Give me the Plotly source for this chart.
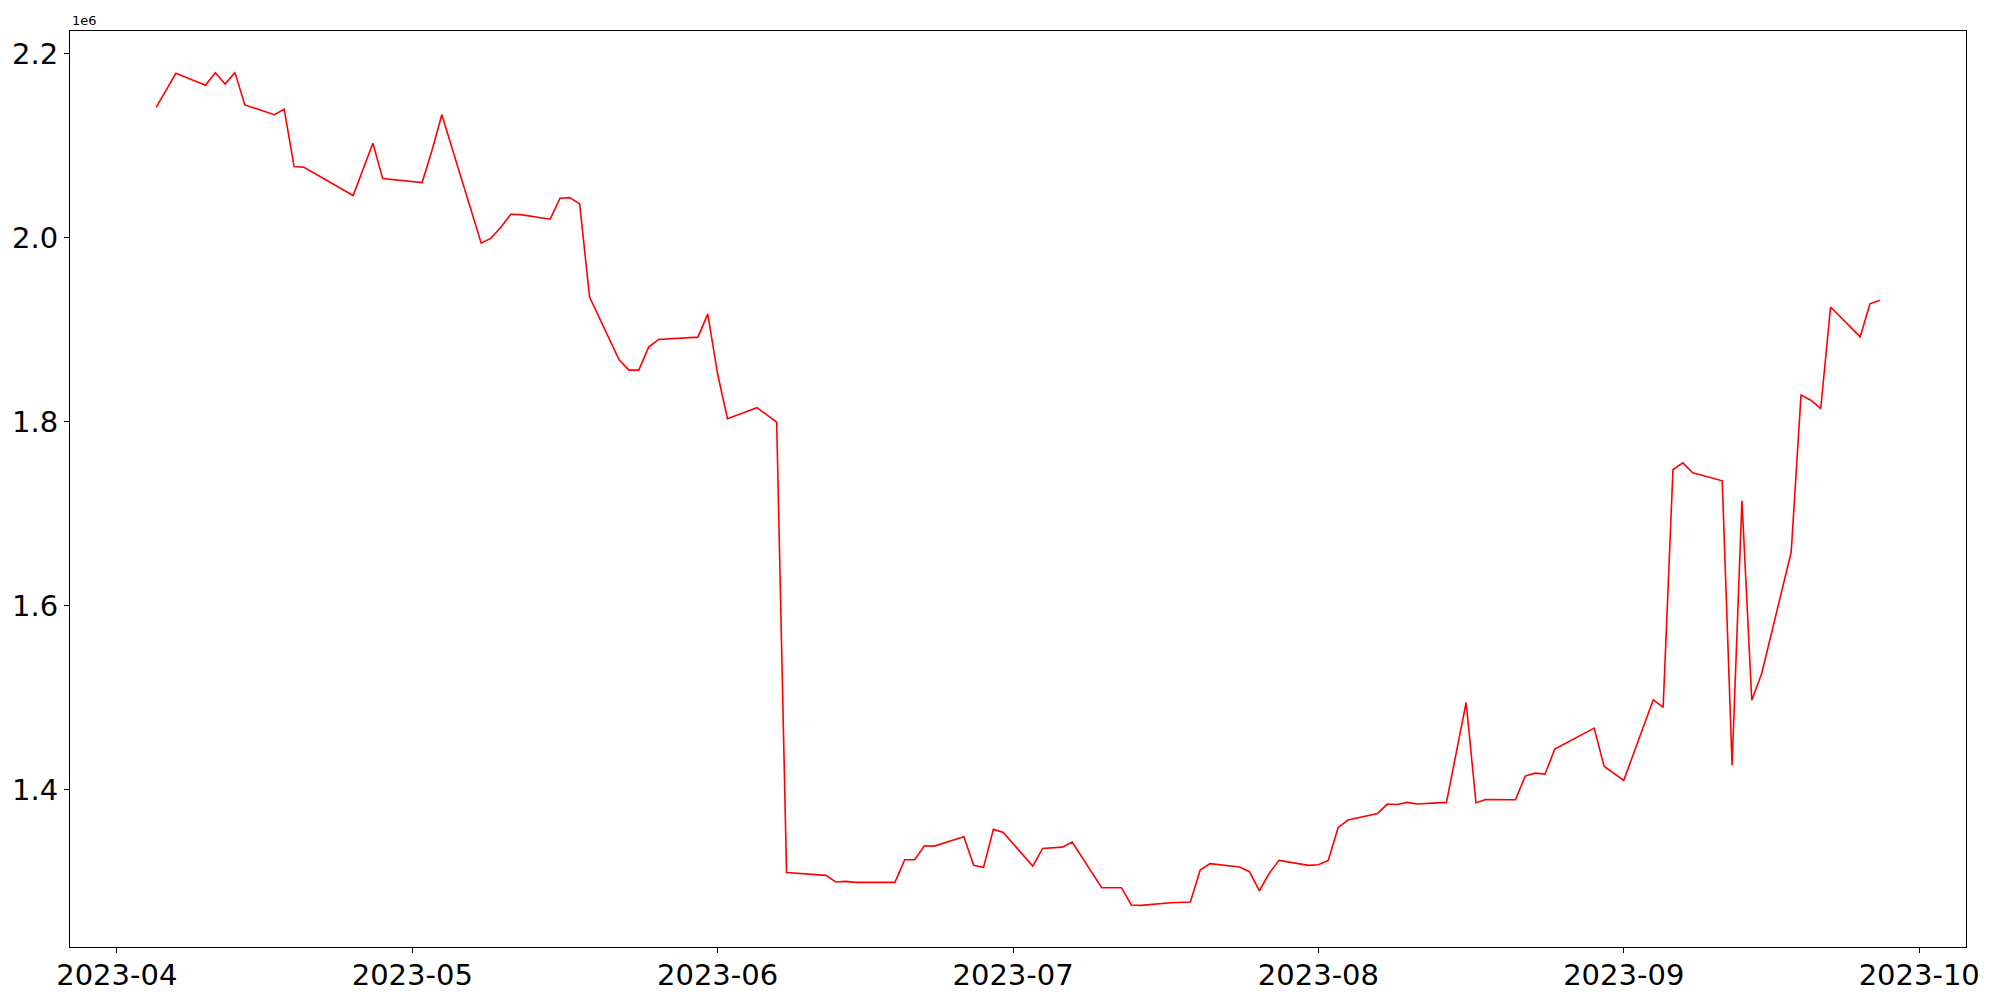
import plotly.graph_objects as go
import pandas as pd

dates = [
    "2023-04-05", "2023-04-07", "2023-04-10", "2023-04-11", "2023-04-12", "2023-04-13", "2023-04-14",
    "2023-04-17", "2023-04-18", "2023-04-19", "2023-04-20", "2023-04-25", "2023-04-27", "2023-04-28",
    "2023-05-02", "2023-05-03", "2023-05-04", "2023-05-08", "2023-05-09", "2023-05-10", "2023-05-11",
    "2023-05-12", "2023-05-15", "2023-05-16", "2023-05-17", "2023-05-18", "2023-05-19", "2023-05-22",
    "2023-05-23", "2023-05-24", "2023-05-25", "2023-05-26", "2023-05-30", "2023-05-31", "2023-06-01",
    "2023-06-02", "2023-06-05", "2023-06-07", "2023-06-08", "2023-06-12", "2023-06-13", "2023-06-14",
    "2023-06-15", "2023-06-19", "2023-06-20", "2023-06-21", "2023-06-22", "2023-06-23", "2023-06-26",
    "2023-06-27", "2023-06-28", "2023-06-29", "2023-06-30", "2023-07-03", "2023-07-04", "2023-07-06",
    "2023-07-07", "2023-07-10", "2023-07-12", "2023-07-13", "2023-07-14", "2023-07-17", "2023-07-19",
    "2023-07-20", "2023-07-21", "2023-07-24", "2023-07-25", "2023-07-26", "2023-07-27", "2023-07-28",
    "2023-07-31", "2023-08-01", "2023-08-02", "2023-08-03", "2023-08-04", "2023-08-07", "2023-08-08",
    "2023-08-09", "2023-08-10", "2023-08-11", "2023-08-14", "2023-08-16", "2023-08-17", "2023-08-18",
    "2023-08-21", "2023-08-22", "2023-08-23", "2023-08-24", "2023-08-25", "2023-08-28", "2023-08-29",
    "2023-08-30", "2023-09-01", "2023-09-04", "2023-09-05", "2023-09-06", "2023-09-07", "2023-09-08",
    "2023-09-11", "2023-09-12", "2023-09-13", "2023-09-14", "2023-09-15", "2023-09-18", "2023-09-19",
    "2023-09-20", "2023-09-21", "2023-09-22", "2023-09-25", "2023-09-26", "2023-09-27",
]

values_1e6 = [
    2.1417, 2.1786, 2.1656, 2.1794, 2.1671, 2.1794, 2.1443,
    2.1337, 2.1395, 2.0773, 2.0766, 2.0458, 2.1026, 2.0642,
    2.0599, 2.0947, 2.1337, 1.9940, 1.9995, 2.0114, 2.0255,
    2.0251, 2.0201, 2.0429, 2.0436, 2.0367, 1.9354, 1.8673,
    1.8561, 1.8561, 1.8811, 1.8894, 1.8919, 1.9169, 1.8521,
    1.8032, 1.8152, 1.7996, 1.3101, 1.3069, 1.2997, 1.3004,
    1.2993, 1.2993, 1.3239, 1.3239, 1.3391, 1.3387, 1.3489,
    1.3178, 1.3156, 1.3569, 1.3536, 1.3170, 1.3362, 1.3376,
    1.3431, 1.2935, 1.2935, 1.2747, 1.2743, 1.2772, 1.2779,
    1.3127, 1.3196, 1.3160, 1.3109, 1.2902, 1.3091, 1.3232,
    1.3178, 1.3185, 1.3232, 1.3587, 1.3670, 1.3742, 1.3844,
    1.3840, 1.3862, 1.3844, 1.3862, 1.4948, 1.3858, 1.3894,
    1.3891, 1.4148, 1.4180, 1.4169, 1.4441, 1.4618, 1.4669,
    1.4256, 1.4101, 1.4977, 1.4894, 1.7478, 1.7553, 1.7444,
    1.7358, 1.4265, 1.7141, 1.4972, 1.5260, 1.6581, 1.8290,
    1.8233, 1.8143, 1.9247, 1.8922, 1.9282, 1.9320,
]

x_ticks = ["2023-04-01", "2023-05-01", "2023-06-01", "2023-07-01", "2023-08-01", "2023-09-01", "2023-10-01"]
x_tick_labels = ["2023-04", "2023-05", "2023-06", "2023-07", "2023-08", "2023-09", "2023-10"]
y_ticks = [1.4, 1.6, 1.8, 2.0, 2.2]
y_tick_labels = ["1.4", "1.6", "1.8", "2.0", "2.2"]

x = pd.to_datetime(dates)
x0, x1 = x.min(), x.max()
xpad = (x1 - x0) * 0.05
ymin, ymax = min(values_1e6), max(values_1e6)
ypad = (ymax - ymin) * 0.05

font_family = "DejaVu Sans"

fig = go.Figure()
fig.add_trace(go.Scatter(
    x=x, y=values_1e6, mode="lines",
    line=dict(color="#ff0000", width=1.6),
    showlegend=False, hoverinfo="skip",
))

axis_common = dict(
    showgrid=False, zeroline=False, showline=True, linecolor="black", linewidth=1,
    mirror=True, ticks="outside", ticklen=5, tickwidth=1, tickcolor="black",
    tickfont=dict(family=font_family, size=29, color="black"),
    automargin=False,
)

fig.update_xaxes(
    range=[x0 - xpad, x1 + xpad],
    tickmode="array", tickvals=pd.to_datetime(x_ticks), ticktext=x_tick_labels,
    ticklabelstandoff=-3,
    **axis_common,
)
fig.update_yaxes(
    range=[ymin - ypad, ymax + ypad],
    tickmode="array", tickvals=y_ticks, ticktext=y_tick_labels,
    **axis_common,
)

fig.add_annotation(
    text="1e6", xref="paper", yref="paper", x=0, y=1, xanchor="left", yanchor="bottom",
    showarrow=False, font=dict(family=font_family, size=13, color="black"), yshift=1,
)

# page body has an 8px default margin; figure sized to fit the 2000x1000 viewport
fig.update_layout(
    width=1992, height=992,
    margin=dict(l=62, r=34, t=23, b=53, autoexpand=False),
    paper_bgcolor="white", plot_bgcolor="white",
    font=dict(family=font_family, color="black"),
)

fig.write_html("out.html")
